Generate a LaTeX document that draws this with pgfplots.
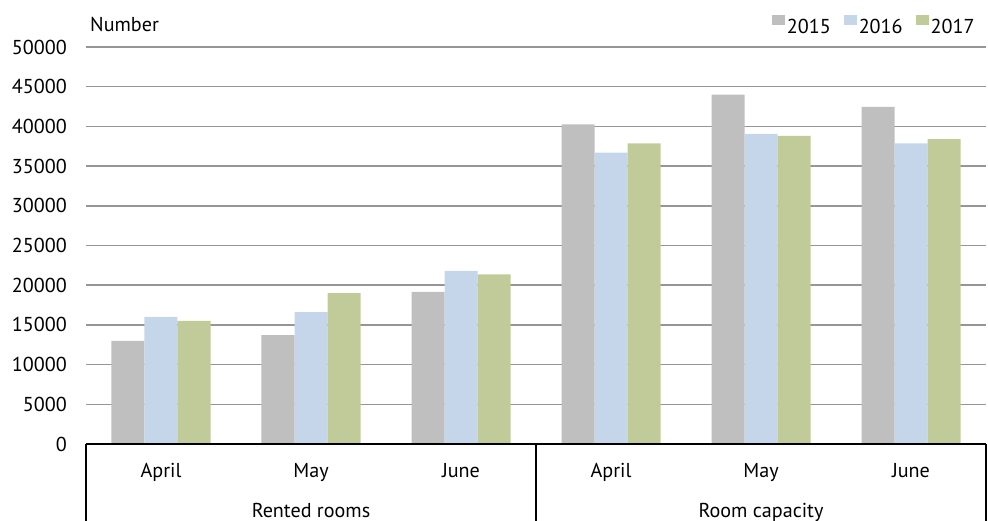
\documentclass[border=0pt]{standalone}
\usepackage{pgfplots}
\pgfplotsset{compat=1.18}
\usepackage{fontspec}
\setmainfont{PT Sans}
\definecolor{cA}{RGB}{191,191,191}
\definecolor{cB}{RGB}{198,214,234}
\definecolor{cC}{RGB}{193,203,154}
\definecolor{gridgray}{RGB}{150,150,150}
\begin{document}
\begin{tikzpicture}[font=\fontsize{20.2}{24}\selectfont]
\begin{axis}[
  scale only axis, width=900bp, height=397bp,
  xmin=-0.5, xmax=5.5, ymin=0, ymax=50000,
  clip=false,
  ybar=0pt, bar width=33bp,
  xtick={0,1,2,3,4,5},
  xticklabels={April,May,June,April,May,June},
  ytick={0,5000,...,50000},
  scaled y ticks=false,
  major tick length=0pt,
  axis line style={draw=none},
  ymajorgrids, grid style={line width=1.5bp, color=gridgray},
  yticklabel style={/pgf/number format/1000 sep={}, /pgf/number format/assume math mode=true, anchor=east, inner sep=0pt, xshift=-19bp},
  xticklabel style={anchor=base, inner sep=0pt, yshift=-33bp},
  legend style={draw=none, fill=none, inner sep=0pt, outer sep=0pt,
    legend columns=3, at={(0.9889,1.0806)}, anchor=north east,
    nodes={inner sep=1.5bp},
    /tikz/every even column/.append style={column sep=12bp}},
  legend image code/.code={\fill[#1] (0bp,2bp) rectangle (13bp,12bp);},
]
\addplot[fill=cA, draw=none] coordinates {(0,13000) (1,13700) (2,19150) (3,40250) (4,44000) (5,42450)};
\addplot[fill=cB, draw=none] coordinates {(0,16000) (1,16600) (2,21800) (3,36700) (4,39050) (5,37850)};
\addplot[fill=cC, draw=none] coordinates {(0,15500) (1,19000) (2,21350) (3,37850) (4,38800) (5,38400)};
\legend{2015,2016,2017}
\draw[line width=2bp] (axis cs:-0.5,0) -- (axis cs:5.5,0);
\draw[line width=2bp] (axis cs:-0.5,0) -- ++(0pt,-80bp);
\draw[line width=2bp] (axis cs:2.5,0) -- ++(0pt,-80bp);
\draw[line width=2bp] (axis cs:5.5,0) -- ++(0pt,-80bp);
\node[anchor=base] at (axis cs:1,0) [yshift=-73bp] {Rented rooms};
\node[anchor=base] at (axis cs:4,0) [yshift=-73bp] {Room capacity};
\node[anchor=base west, inner sep=0pt] at (rel axis cs:0.0045,1) [yshift=15.3bp] {Number};
\end{axis}
\pgfresetboundingbox
\path (-86bp,-77bp) rectangle (902bp,444bp);
\end{tikzpicture}
\end{document}
